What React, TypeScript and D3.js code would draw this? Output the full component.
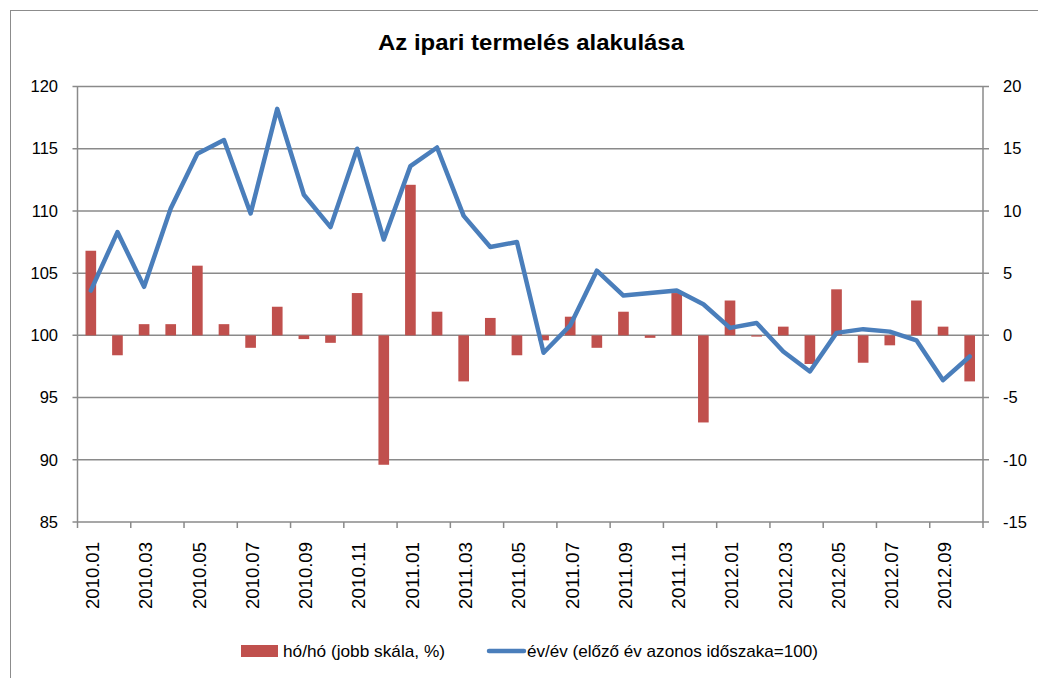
import { FC, useEffect, useRef } from "react";
import * as d3 from "d3";

const categories = [
  "2010.01", "2010.02", "2010.03", "2010.04", "2010.05", "2010.06",
  "2010.07", "2010.08", "2010.09", "2010.10", "2010.11", "2010.12",
  "2011.01", "2011.02", "2011.03", "2011.04", "2011.05", "2011.06",
  "2011.07", "2011.08", "2011.09", "2011.10", "2011.11", "2011.12",
  "2012.01", "2012.02", "2012.03", "2012.04", "2012.05", "2012.06",
  "2012.07", "2012.08", "2012.09", "2012.10",
];

// hó/hó, jobb skála (%)
const momValues = [
  6.8, -1.6, 0.9, 0.9, 5.6, 0.9, -1.0, 2.3, -0.3, -0.6, 3.4, -10.4,
  12.1, 1.9, -3.7, 1.4, -1.6, -0.4, 1.5, -1.0, 1.9, -0.2, 3.4, -7.0,
  2.8, -0.1, 0.7, -2.3, 3.7, -2.2, -0.8, 2.8, 0.7, -3.7,
];

// év/év (előző év azonos időszaka=100)
const yoyValues = [
  103.6, 108.3, 103.9, 110.2, 114.6, 115.7, 109.8, 118.2, 111.3, 108.7, 115.0, 107.7,
  113.6, 115.1, 109.6, 107.1, 107.5, 98.6, 100.8, 105.2, 103.2, 103.4, 103.6, 102.5,
  100.6, 101.0, 98.7, 97.1, 100.2, 100.5, 100.3, 99.6, 96.4, 98.3,
];

const leftTicks = [85, 90, 95, 100, 105, 110, 115, 120];
const rightTicks = [-15, -10, -5, 0, 5, 10, 15, 20];

const title = "Az ipari termelés alakulása";
const barName = "hó/hó (jobb skála, %)";
const lineName = "év/év (előző év azonos időszaka=100)";

const App: FC = () => {
  const ref = useRef<SVGSVGElement>(null);
  const width = 1038;
  const height = 678;
  const margin = { top: 86.5, right: 55, bottom: 156, left: 77.5 };
  const font = "'Liberation Sans', Arial, sans-serif";
  const barColor = "#C0504D";
  const lineColor = "#4A7EBB";
  const gridColor = "#8a8a8a";

  const runChart = () => {
    const svg = d3.select(ref.current);
    svg.selectAll("*").remove();

    const x0 = margin.left;
    const x1 = width - margin.right;
    const y0 = margin.top;
    const y1 = height - margin.bottom;

    const x = d3.scaleBand().domain(categories).range([x0, x1]).padding(0);
    const yLeft = d3.scaleLinear().domain([85, 120]).range([y1, y0]);
    const yRight = d3.scaleLinear().domain([-15, 20]).range([y1, y0]);

    // outer chart border
    svg
      .append("rect")
      .attr("x", 10.5)
      .attr("y", 10.5)
      .attr("width", width + 20)
      .attr("height", height + 20)
      .attr("fill", "white")
      .attr("stroke", "#8c8c8c")
      .attr("stroke-width", 1);

    // title
    svg
      .append("text")
      .attr("x", 531)
      .attr("y", 50)
      .attr("text-anchor", "middle")
      .attr("font-family", font)
      .attr("font-weight", "bold")
      .attr("font-size", 22)
      .attr("textLength", 306)
      .attr("lengthAdjust", "spacingAndGlyphs")
      .attr("fill", "#000")
      .text(title);

    // gridlines
    svg
      .append("g")
      .selectAll("line")
      .data(leftTicks)
      .join("line")
      .attr("x1", x0 - 5)
      .attr("x2", x1 + 6)
      .attr("y1", (d) => yLeft(d))
      .attr("y2", (d) => yLeft(d))
      .attr("stroke", gridColor)
      .attr("stroke-width", 1.5);

    // left axis
    const gl = svg.append("g");
    gl.append("line")
      .attr("x1", x0)
      .attr("x2", x0)
      .attr("y1", y0)
      .attr("y2", y1)
      .attr("stroke", gridColor)
      .attr("stroke-width", 1.5);
    gl.selectAll("text")
      .data(leftTicks)
      .join("text")
      .attr("x", 58)
      .attr("y", (d) => yLeft(d))
      .attr("dy", "0.35em")
      .attr("text-anchor", "end")
      .attr("font-family", font)
      .attr("font-size", 16.5)
      .attr("fill", "#000")
      .text((d) => d);

    // right axis
    const gr = svg.append("g");
    gr.append("line")
      .attr("x1", x1)
      .attr("x2", x1)
      .attr("y1", y0)
      .attr("y2", y1)
      .attr("stroke", gridColor)
      .attr("stroke-width", 1.5);
    gr.selectAll("text")
      .data(rightTicks)
      .join("text")
      .attr("x", 1003)
      .attr("y", (d) => yRight(d))
      .attr("dy", "0.35em")
      .attr("text-anchor", "start")
      .attr("font-family", font)
      .attr("font-size", 16.5)
      .attr("fill", "#000")
      .text((d) => d);

    // x axis ticks (every second category boundary)
    const tickCats = categories.filter((_, i) => i % 2 === 0);
    const gx = svg.append("g");
    gx.selectAll("line")
      .data([...tickCats.map((c) => x(c) as number), x1])
      .join("line")
      .attr("x1", (d) => d)
      .attr("x2", (d) => d)
      .attr("y1", y1)
      .attr("y2", y1 + 6)
      .attr("stroke", gridColor)
      .attr("stroke-width", 1.5);
    gx.selectAll("text")
      .data(tickCats)
      .join("text")
      .attr(
        "transform",
        (d) => `translate(${(x(d) as number) + x.bandwidth() / 2 + 2},542) rotate(-90)`
      )
      .attr("dy", "0.35em")
      .attr("text-anchor", "end")
      .attr("font-family", font)
      .attr("font-size", 18)
      .attr("textLength", 67)
      .attr("lengthAdjust", "spacingAndGlyphs")
      .attr("fill", "#000")
      .text((d) => d);

    // bars
    const bw = x.bandwidth() * 0.4;
    svg
      .append("g")
      .selectAll("rect")
      .data(momValues)
      .join("rect")
      .attr("x", (_, i) => (x(categories[i]) as number) + (x.bandwidth() - bw) / 2)
      .attr("y", (d) => yRight(Math.max(0, d)))
      .attr("width", bw)
      .attr("height", (d) => Math.abs(yRight(d) - yRight(0)))
      .attr("fill", barColor);

    // line
    const line = d3
      .line<number>()
      .x((_, i) => (x(categories[i]) as number) + x.bandwidth() / 2)
      .y((d) => yLeft(d));
    svg
      .append("path")
      .datum(yoyValues)
      .attr("d", line)
      .attr("fill", "none")
      .attr("stroke", lineColor)
      .attr("stroke-width", 4.5)
      .attr("stroke-linejoin", "round")
      .attr("stroke-linecap", "round");

    // legend
    const lg = svg.append("g").attr("font-family", font).attr("font-size", 17);
    lg.append("rect")
      .attr("x", 241)
      .attr("y", 645)
      .attr("width", 37)
      .attr("height", 12)
      .attr("fill", barColor);
    lg.append("text")
      .attr("x", 283)
      .attr("y", 657)
      .attr("textLength", 162)
      .attr("lengthAdjust", "spacingAndGlyphs")
      .attr("fill", "#000")
      .text(barName);
    lg.append("line")
      .attr("x1", 489)
      .attr("x2", 524)
      .attr("y1", 651)
      .attr("y2", 651)
      .attr("stroke", lineColor)
      .attr("stroke-width", 4.5)
      .attr("stroke-linecap", "round");
    lg.append("text")
      .attr("x", 527)
      .attr("y", 657)
      .attr("textLength", 291)
      .attr("lengthAdjust", "spacingAndGlyphs")
      .attr("fill", "#000")
      .text(lineName);
  };

  useEffect(() => {
    runChart();
  }, []);

  return (
    <svg
      ref={ref}
      width={width}
      height={height}
      style={{ position: "absolute", left: 0, top: 0, background: "white" }}
    />
  );
};

export default App;
